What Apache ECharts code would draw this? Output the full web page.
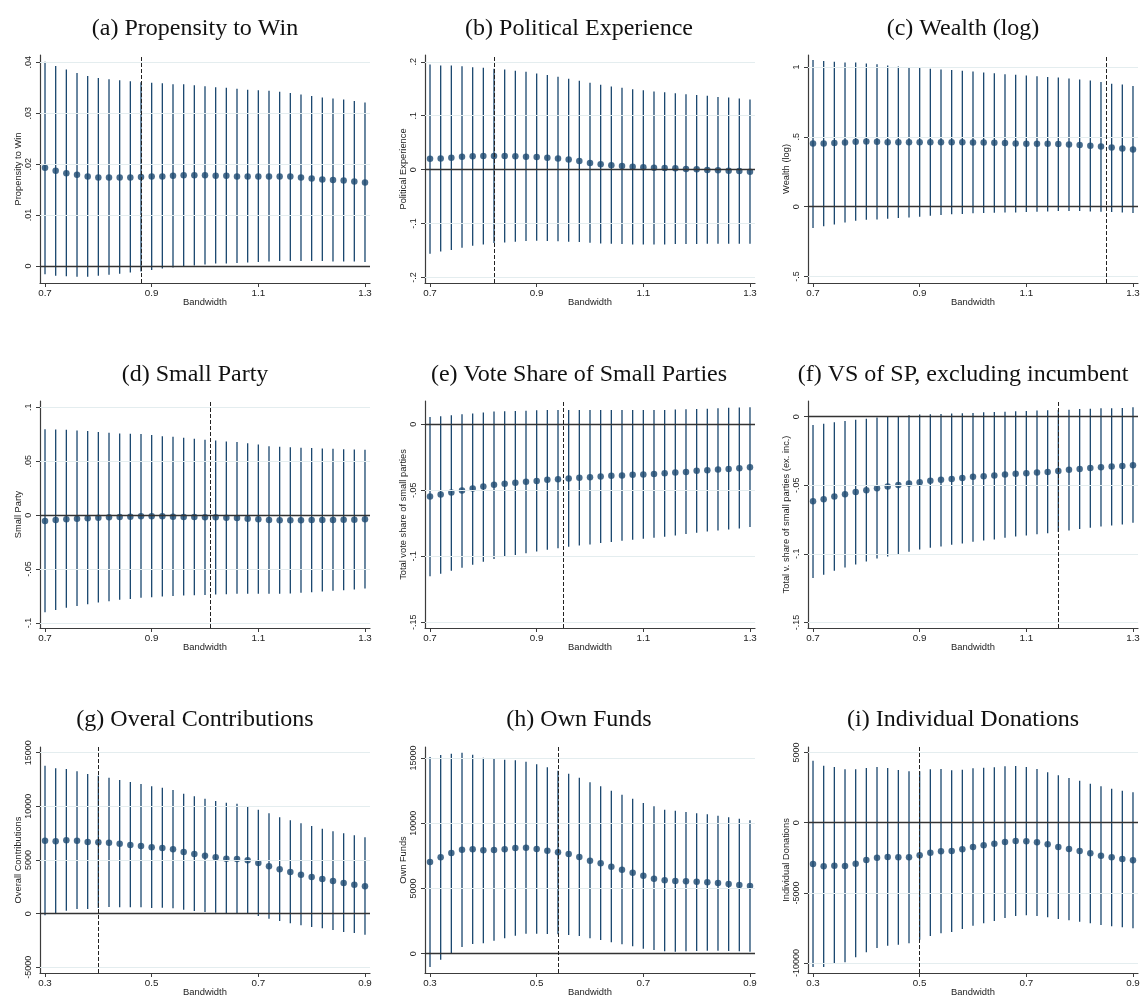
<!DOCTYPE html>
<html>
<head>
<meta charset="utf-8">
<script src="https://cdn.jsdelivr.net/npm/echarts@6/dist/echarts.min.js"></script>
<style>
html,body{margin:0;padding:0;background:#fff;}
#chart{width:1146px;height:1001px;}
</style>
</head>
<body>
<div id="chart"></div>
<script>
// ---------- DATA ----------
const bwTop = [0.70,0.72,0.74,0.76,0.78,0.80,0.82,0.84,0.86,0.88,0.90,0.92,0.94,0.96,0.98,1.00,1.02,1.04,1.06,1.08,1.10,1.12,1.14,1.16,1.18,1.20,1.22,1.24,1.26,1.28,1.30];
const bwBottom = [0.30,0.32,0.34,0.36,0.38,0.40,0.42,0.44,0.46,0.48,0.50,0.52,0.54,0.56,0.58,0.60,0.62,0.64,0.66,0.68,0.70,0.72,0.74,0.76,0.78,0.80,0.82,0.84,0.86,0.88,0.90];

const titles = ["(a) Propensity to Win","(b) Political Experience","(c) Wealth (log)","(d) Small Party","(e) Vote Share of Small Parties","(f) VS of SP, excluding incumbent","(g) Overal Contributions","(h) Own Funds","(i) Individual Donations"];
const yNames = ["Propensity to Win","Political Experience","Wealth (log)","Small Party","Total vote share of small parties","Total v. share of small parties (ex. inc.)","Overall Contributions","Own Funds","Individual Donations"];
const xName = "Bandwidth";

// (a) Propensity to Win
const estA = [0.0193,0.0187,0.0182,0.0179,0.0176,0.0174,0.0174,0.0174,0.0174,0.0175,0.0176,0.0176,0.0177,0.0178,0.0178,0.0178,0.0177,0.0177,0.0176,0.0176,0.0176,0.0176,0.0176,0.0176,0.0174,0.0172,0.0170,0.0169,0.0168,0.0166,0.0164];
const hiA = [0.0401,0.0393,0.0386,0.0379,0.0373,0.0369,0.0367,0.0365,0.0363,0.0361,0.0360,0.0359,0.0357,0.0357,0.0355,0.0353,0.0351,0.0350,0.0348,0.0346,0.0345,0.0344,0.0342,0.0340,0.0337,0.0334,0.0331,0.0329,0.0327,0.0324,0.0321];
const loA = [-0.0016,-0.0019,-0.0020,-0.0021,-0.0021,-0.0019,-0.0017,-0.0015,-0.0013,-0.0011,-0.0008,-0.0005,-0.0003,0.0000,0.0001,0.0003,0.0005,0.0005,0.0006,0.0007,0.0008,0.0009,0.0010,0.0010,0.0010,0.0010,0.0010,0.0009,0.0009,0.0009,0.0008];
const cutA = 0.875;
const ticksA = [0,0.01,0.02,0.03,0.04];

// (b) Political Experience
const estB = [0.020,0.0205,0.022,0.024,0.025,0.0255,0.0255,0.0255,0.025,0.024,0.0236,0.022,0.0205,0.0187,0.016,0.0124,0.010,0.008,0.0068,0.0056,0.0044,0.0037,0.0031,0.0025,0.0012,0.0006,-0.0006,-0.0012,-0.0019,-0.0025,-0.0037];
const hiB = [0.195,0.193,0.193,0.192,0.190,0.189,0.187,0.186,0.1835,0.1816,0.1785,0.1754,0.1723,0.1686,0.1649,0.1611,0.1574,0.1543,0.1518,0.1493,0.1474,0.1449,0.1437,0.1418,0.1400,0.1387,0.1369,0.1350,0.1337,0.1319,0.1300];
const loB = [-0.156,-0.152,-0.149,-0.145,-0.141,-0.139,-0.136,-0.135,-0.134,-0.1325,-0.132,-0.1325,-0.133,-0.134,-0.1344,-0.1356,-0.1369,-0.1375,-0.138,-0.1387,-0.1387,-0.1387,-0.1387,-0.138,-0.138,-0.138,-0.1375,-0.1375,-0.1375,-0.1375,-0.1375];
const cutB = 0.822;
const ticksB = [-0.2,-0.1,0,0.1,0.2];

// (c) Wealth (log)
const estC = [0.453,0.453,0.455,0.460,0.465,0.467,0.465,0.462,0.462,0.462,0.462,0.462,0.462,0.462,0.462,0.460,0.460,0.4575,0.455,0.453,0.450,0.450,0.450,0.448,0.445,0.441,0.436,0.431,0.424,0.4166,0.409];
const hiC = [1.050,1.043,1.038,1.033,1.033,1.026,1.019,1.011,1.004,0.997,0.994,0.987,0.982,0.978,0.973,0.968,0.961,0.956,0.949,0.944,0.939,0.934,0.929,0.925,0.917,0.910,0.903,0.893,0.881,0.874,0.864];
const loC = [-0.152,-0.140,-0.128,-0.113,-0.101,-0.094,-0.0915,-0.087,-0.082,-0.077,-0.072,-0.065,-0.060,-0.055,-0.053,-0.048,-0.046,-0.043,-0.041,-0.041,-0.0385,-0.036,-0.034,-0.031,-0.031,-0.031,-0.034,-0.036,-0.0385,-0.041,-0.046];
const cutC = 1.245;
const ticksC = [-0.5,0,0.5,1];

// (d) Small Party
const estD = [-0.0054,-0.0045,-0.0039,-0.0033,-0.0029,-0.0023,-0.0020,-0.0017,-0.0014,-0.0011,-0.0011,-0.0011,-0.0014,-0.0017,-0.0017,-0.0020,-0.0020,-0.0023,-0.0026,-0.0033,-0.0039,-0.0045,-0.0048,-0.0048,-0.0048,-0.0045,-0.0045,-0.0045,-0.0042,-0.0042,-0.0039];
const hiD = [0.0798,0.0795,0.0792,0.0786,0.0780,0.0771,0.0765,0.0758,0.0755,0.0752,0.0743,0.0733,0.0727,0.0718,0.0709,0.0699,0.0693,0.0684,0.0678,0.0668,0.0656,0.0640,0.0634,0.0631,0.0625,0.0622,0.0619,0.0616,0.0612,0.0609,0.0606];
const loD = [-0.0901,-0.0879,-0.0860,-0.0842,-0.0826,-0.0811,-0.0798,-0.0786,-0.0777,-0.0767,-0.0761,-0.0755,-0.0749,-0.0746,-0.0743,-0.0740,-0.0736,-0.0733,-0.0730,-0.0730,-0.0730,-0.0730,-0.0730,-0.0727,-0.0721,-0.0715,-0.0709,-0.0702,-0.0696,-0.0690,-0.0681];
const cutD = 1.0125;
const ticksD = [-0.1,-0.05,0,0.05,0.1];

// (e) Vote Share of Small Parties
const estE = [-0.0547,-0.0532,-0.0517,-0.0502,-0.0487,-0.0471,-0.0459,-0.0451,-0.0444,-0.0436,-0.0429,-0.0421,-0.0416,-0.0411,-0.0406,-0.0401,-0.0396,-0.0391,-0.0388,-0.0383,-0.0381,-0.0376,-0.0371,-0.0366,-0.0361,-0.0353,-0.0348,-0.0343,-0.0338,-0.0333,-0.0325];
const hiE = [0.0055,0.0061,0.0068,0.0076,0.0081,0.0088,0.0096,0.0098,0.0101,0.0103,0.0106,0.0108,0.0108,0.0108,0.0108,0.0108,0.0108,0.0108,0.0108,0.0108,0.0108,0.0108,0.0108,0.0111,0.0113,0.0116,0.0118,0.0121,0.0124,0.0126,0.0129];
const loE = [-0.1152,-0.1132,-0.1109,-0.1087,-0.1064,-0.1041,-0.1021,-0.1003,-0.0991,-0.0976,-0.0963,-0.0950,-0.0940,-0.0928,-0.0918,-0.0910,-0.0900,-0.0892,-0.0882,-0.0875,-0.0867,-0.0860,-0.0852,-0.0842,-0.0832,-0.0822,-0.0812,-0.0804,-0.0797,-0.0789,-0.0779];
const cutE = 0.954;
const ticksE = [-0.15,-0.1,-0.05,0];

// (f) VS of SP, excluding incumbent
const estF = [-0.0617,-0.0602,-0.0583,-0.0566,-0.0549,-0.0536,-0.0522,-0.0510,-0.0498,-0.0488,-0.0478,-0.0468,-0.0461,-0.0454,-0.0447,-0.0439,-0.0434,-0.0430,-0.0422,-0.0417,-0.0413,-0.0408,-0.0403,-0.0396,-0.0388,-0.0381,-0.0374,-0.0369,-0.0364,-0.0359,-0.0354];
const hiF = [-0.0061,-0.0051,-0.0041,-0.0032,-0.0022,-0.0015,-0.0007,-0.0002,0.0002,0.0010,0.0015,0.0017,0.0019,0.0022,0.0024,0.0027,0.0032,0.0034,0.0036,0.0039,0.0041,0.0044,0.0046,0.0049,0.0051,0.0056,0.0058,0.0061,0.0061,0.0063,0.0068];
const loF = [-0.1177,-0.1153,-0.1124,-0.1100,-0.1078,-0.1056,-0.1034,-0.1019,-0.1007,-0.0985,-0.0968,-0.0956,-0.0947,-0.0934,-0.0925,-0.0913,-0.0903,-0.0896,-0.0883,-0.0874,-0.0867,-0.0857,-0.0850,-0.0840,-0.0830,-0.0820,-0.0811,-0.0801,-0.0794,-0.0786,-0.0774];
const cutF = 1.157;
const ticksF = [-0.15,-0.1,-0.05,0];

// (g) Overal Contributions
const estG = [6801,6739,6832,6801,6677,6646,6615,6522,6398,6304,6180,6118,5994,5745,5559,5404,5248,5124,5093,4969,4720,4410,4130,3882,3634,3416,3230,3043,2857,2702,2547];
const hiG = [13789,13540,13478,13261,13012,12857,12671,12453,12267,12081,11863,11739,11522,11180,10932,10714,10497,10342,10248,10031,9689,9348,8975,8696,8416,8168,7919,7671,7484,7298,7112];
const loG = [-155,0,280,435,435,528,621,590,590,590,528,559,497,373,248,155,93,62,62,-31,-217,-466,-683,-901,-1087,-1242,-1366,-1522,-1708,-1801,-1957];
const cutG = 0.398;
const ticksG = [-5000,0,5000,10000,15000];

// (h) Own Funds
const estH = [7028,7386,7718,7973,7999,7922,7948,7999,8101,8127,8025,7897,7769,7641,7411,7130,6926,6670,6440,6210,5980,5750,5622,5571,5546,5520,5469,5418,5341,5265,5188];
const hiH = [15078,15231,15333,15410,15257,15027,14925,14874,14823,14720,14516,14286,14030,13800,13494,13136,12829,12497,12190,11883,11551,11296,11040,10963,10861,10759,10682,10580,10452,10350,10222];
const loH = [-1022,-460,51,511,741,792,997,1176,1380,1533,1533,1508,1482,1431,1354,1176,1048,869,716,562,383,281,178,153,178,204,230,230,204,178,153];
const cutH = 0.541;
const ticksH = [0,5000,10000,15000];

// (i) Individual Donations
const estI = [-2943,-3109,-3062,-3086,-2920,-2658,-2492,-2445,-2469,-2469,-2326,-2136,-2041,-2018,-1899,-1733,-1614,-1495,-1377,-1305,-1329,-1400,-1543,-1733,-1875,-2018,-2184,-2350,-2469,-2587,-2682];
const hiI = [4415,4059,3964,3798,3798,3893,3964,3893,3750,3655,3655,3798,3822,3727,3774,3869,3916,3940,4011,4035,3964,3822,3584,3371,3181,2991,2777,2587,2421,2279,2160];
const loI = [-10278,-10278,-10064,-9945,-9589,-9233,-8925,-8759,-8687,-8592,-8331,-8070,-7880,-7785,-7572,-7334,-7168,-7002,-6789,-6646,-6599,-6646,-6741,-6860,-6955,-7049,-7168,-7287,-7382,-7453,-7524];
const cutI = 0.5;
const ticksI = [-10000,-5000,0,5000];

const xTicksTop = [0.7,0.9,1.1,1.3];
const xTicksBottom = [0.3,0.5,0.7,0.9];

// axis ranges (plot region extents)
const yRanges = [[-0.00334,0.04144],[-0.2103,0.2127],[-0.5466,1.086],[-0.1047,0.1059],[-0.1543,0.0176],[-0.1541,0.0114],[-5528,15528],[-1482,15845],[-10705,5388]];
const xRangeTop = [0.6906,1.3094];
const xRangeBottom = [0.2906,0.9094];

// ---------- BUILD ----------
const panels = [
  {bw:bwTop, est:estA, hi:hiA, lo:loA, cut:cutA, yt:ticksA},
  {bw:bwTop, est:estB, hi:hiB, lo:loB, cut:cutB, yt:ticksB},
  {bw:bwTop, est:estC, hi:hiC, lo:loC, cut:cutC, yt:ticksC},
  {bw:bwTop, est:estD, hi:hiD, lo:loD, cut:cutD, yt:ticksD},
  {bw:bwTop, est:estE, hi:hiE, lo:loE, cut:cutE, yt:ticksE},
  {bw:bwTop, est:estF, hi:hiF, lo:loF, cut:cutF, yt:ticksF},
  {bw:bwBottom, est:estG, hi:hiG, lo:loG, cut:cutG, yt:ticksG},
  {bw:bwBottom, est:estH, hi:hiH, lo:loH, cut:cutH, yt:ticksH},
  {bw:bwBottom, est:estI, hi:hiI, lo:loI, cut:cutI, yt:ticksI}
];

const colLeft = [40, 425, 808];
const plotW = 330;
const rowTop = [55, 401, 747];
const rowBottom = [283, 628, 973];
const titleCenterX = [190, 574, 958];
const titleTop = [12, 358, 703];

const NAVY = '#1a476f';
const AXIS = '#3c3c3c';
const SANS = 'Liberation Sans, Arial, sans-serif';

function fmtY(v){
  return String(v).replace(/^(-?)0\./, '$1.');
}

const option = {
  backgroundColor:'#fff',
  animation:false,
  title:[], grid:[], xAxis:[], yAxis:[], series:[]
};

panels.forEach((p, k) => {
  const r = Math.floor(k/3), c = k%3;
  const isBottom = r === 2;
  option.title.push({
    text: titles[k], left: titleCenterX[c], top: titleTop[r], textAlign:'center',
    textStyle:{fontFamily:'Liberation Serif, Times New Roman, serif', fontSize:24, fontWeight:'normal', color:'#111', lineHeight:24}
  });
  option.grid.push({left: colLeft[c], top: rowTop[r], width: plotW, height: rowBottom[r]-rowTop[r], containLabel:false});
  const xr = isBottom ? xRangeBottom : xRangeTop;
  const xt = isBottom ? xTicksBottom : xTicksTop;
  option.xAxis.push({
    type:'value', gridIndex:k, min:xr[0], max:xr[1],
    name:xName, nameLocation:'middle', nameGap:15, nameMoveOverlap:false,
    nameTextStyle:{fontFamily:SANS, fontSize:9.4, color:'#222'},
    axisLine:{show:true, onZero:false, lineStyle:{color:AXIS, width:1.2}},
    axisTick:{show:true, inside:false, length:4, customValues:xt, lineStyle:{color:AXIS, width:1}},
    axisLabel:{show:true, customValues:xt, margin:5, fontFamily:SANS, fontSize:9.8, color:'#222', formatter:v=>String(v)},
    splitLine:{show:false}
  });
  option.yAxis.push({
    type:'value', gridIndex:k, min:yRanges[k][0], max:yRanges[k][1],
    name:yNames[k], nameLocation:'middle', nameGap:17, nameRotate:90, nameMoveOverlap:false,
    nameTextStyle:{fontFamily:SANS, fontSize:9.3, color:'#222'},
    axisLine:{show:true, onZero:false, lineStyle:{color:AXIS, width:1.2}},
    axisTick:{show:true, inside:false, length:4, customValues:p.yt, lineStyle:{color:AXIS, width:1}},
    axisLabel:{show:true, customValues:p.yt, rotate:90, margin:7, fontFamily:SANS, fontSize:9, color:'#222', formatter:v=>fmtY(v)},
    splitLine:{show:false}
  });
  // gridlines
  option.series.push({
    type:'line', xAxisIndex:k, yAxisIndex:k, data:[], z:1, silent:true,
    markLine:{silent:true, symbol:'none', label:{show:false}, animation:false,
      data: p.yt.filter(v=>v!==0).map(v=>({yAxis:v, lineStyle:{color:'#e4edef', width:1, type:'solid'}}))}
  });
  // confidence intervals
  option.series.push({
    type:'custom', xAxisIndex:k, yAxisIndex:k, z:2, silent:true,
    data: p.bw.map((b,i)=>[b, p.lo[i], p.hi[i]]),
    encode:{x:0, y:[1,2]},
    renderItem:(params, api)=>{
      const a = api.coord([api.value(0), api.value(1)]);
      const b = api.coord([api.value(0), api.value(2)]);
      return {type:'line', shape:{x1:a[0], y1:a[1], x2:b[0], y2:b[1]}, style:{stroke:NAVY, lineWidth:1.3}};
    }
  });
  // zero line & optimal bandwidth
  option.series.push({
    type:'line', xAxisIndex:k, yAxisIndex:k, data:[], z:3, silent:true,
    markLine:{silent:true, symbol:'none', label:{show:false}, animation:false,
      data:[
        {yAxis:0, lineStyle:{color:'#333', width:1.3, type:'solid'}},
        {xAxis:p.cut, lineStyle:{color:'#222', width:1, type:[4,2]}}
      ]}
  });
  // point estimates
  option.series.push({
    type:'scatter', xAxisIndex:k, yAxisIndex:k, z:4, silent:true,
    symbol:'circle', symbolSize:6.5,
    itemStyle:{color:NAVY},
    data: p.bw.map((b,i)=>[b, p.est[i]])
  });
});

const chart = echarts.init(document.getElementById('chart'), null, {renderer:'canvas'});
chart.setOption(option);
</script>
</body>
</html>
